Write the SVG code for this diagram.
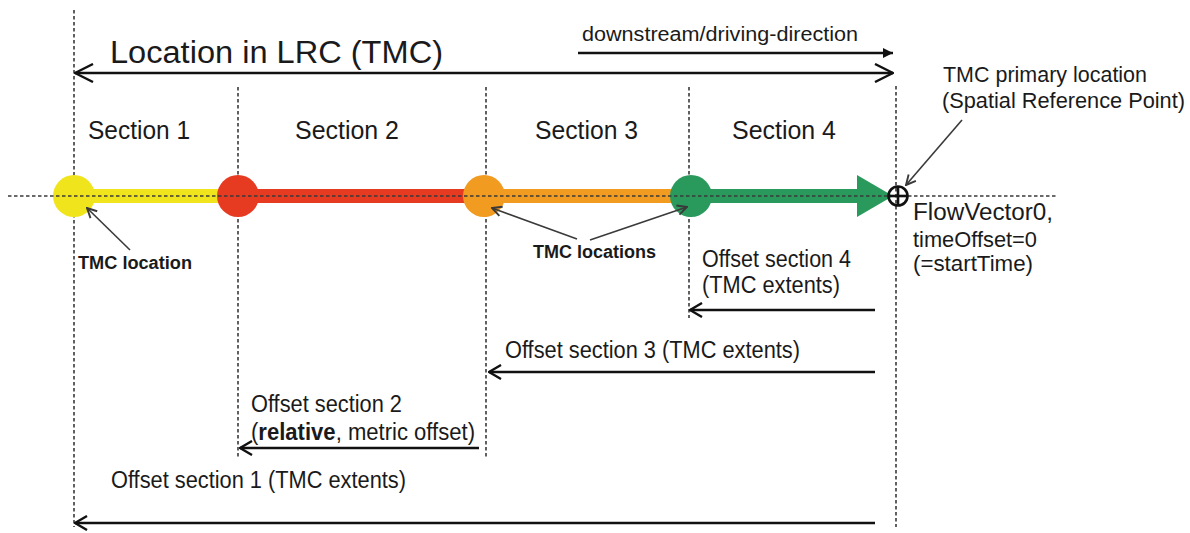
<svg xmlns="http://www.w3.org/2000/svg" width="1190" height="533" viewBox="0 0 1190 533">
<style>
text{font-family:"Liberation Sans",Arial,sans-serif;fill:#1a1a1a}
.dash{stroke:#3a3a3a;stroke-width:1.6;stroke-dasharray:3.5 2.5;fill:none}
.ln{stroke:#111;stroke-width:2.4;fill:none}
.thin{stroke:#3a3a3a;stroke-width:1.6;fill:none}
.sec{font-size:25px}
.off{font-size:23.5px}
.note{font-size:18px;font-weight:bold}
</style>
<defs>
<marker id="open" viewBox="0 0 14 16" refX="13" refY="8" markerWidth="14" markerHeight="16" markerUnits="userSpaceOnUse" orient="auto-start-reverse">
<path d="M1,1 L13,8 L1,15" fill="none" stroke="#111" stroke-width="2.4"/>
</marker>
<marker id="openbig" viewBox="0 0 20 20" refX="19" refY="10" markerWidth="20" markerHeight="20" markerUnits="userSpaceOnUse" orient="auto-start-reverse">
<path d="M1,1 L19,10 L1,19" fill="none" stroke="#111" stroke-width="2.4"/>
</marker>
<marker id="filled" viewBox="0 0 10 10" refX="10" refY="5" markerWidth="10" markerHeight="10" markerUnits="userSpaceOnUse" orient="auto">
<path d="M0,0 L10,5 L0,10 Z" fill="#111"/>
</marker>
<marker id="small" viewBox="0 0 10 10" refX="9" refY="5" markerWidth="12" markerHeight="12" markerUnits="userSpaceOnUse" orient="auto">
<path d="M1,1 L9,5 L1,9" fill="none" stroke="#3a3a3a" stroke-width="1.6"/>
</marker>
</defs>
<rect width="1190" height="533" fill="#fff"/>

<g id="guides">
<line class="dash" x1="74" y1="10" x2="74" y2="527"/>
<line class="dash" x1="238" y1="87" x2="238" y2="457"/>
<line class="dash" x1="486" y1="87" x2="486" y2="457"/>
<line class="dash" x1="689" y1="87" x2="689" y2="318"/>
<line class="dash" x1="896" y1="86" x2="896" y2="527"/>
</g>

<g id="road">
<line x1="74" y1="196" x2="238" y2="196" stroke="#f0e51c" stroke-width="14"/>
<line x1="238" y1="196" x2="486" y2="196" stroke="#e63b21" stroke-width="14"/>
<line x1="486" y1="196" x2="690" y2="196" stroke="#f29b21" stroke-width="14"/>
<line x1="690" y1="196" x2="860" y2="196" stroke="#2a9a5c" stroke-width="14"/>
<path d="M857,175 L893,196 L857,217 Z" fill="#2a9a5c"/>
<circle id="loc1" cx="74" cy="196" r="21" fill="#f0e51c"/>
<circle id="loc2" cx="238" cy="196" r="21" fill="#e63b21"/>
<circle id="loc3" cx="484" cy="196" r="21" fill="#f29b21"/>
<circle id="loc4" cx="691" cy="196" r="21" fill="#2a9a5c"/>
</g>
<line class="dash" x1="8" y1="196" x2="1058" y2="196"/>

<g id="title">
<text x="110" y="63" font-size="31" textLength="333" lengthAdjust="spacingAndGlyphs">Location in LRC (TMC)</text>
</g>
<g id="direction">
<text x="582" y="41" font-size="20" textLength="276" lengthAdjust="spacingAndGlyphs">downstream/driving-direction</text>
</g>

<g id="sections">
<text class="sec" x="88" y="139" textLength="102" lengthAdjust="spacingAndGlyphs">Section 1</text>
<text class="sec" x="295" y="139" textLength="104" lengthAdjust="spacingAndGlyphs">Section 2</text>
<text class="sec" x="535" y="139" textLength="103" lengthAdjust="spacingAndGlyphs">Section 3</text>
<text class="sec" x="732" y="139" textLength="104" lengthAdjust="spacingAndGlyphs">Section 4</text>
</g>

<g id="srp">
<circle cx="898" cy="196" r="9.5" fill="none" stroke="#111" stroke-width="2.6"/>
<line x1="888.5" y1="196" x2="907.5" y2="196" stroke="#111" stroke-width="2.6"/>
<line x1="898" y1="186.5" x2="898" y2="205.5" stroke="#111" stroke-width="2.6"/>
<text x="943" y="82" font-size="22" textLength="204" lengthAdjust="spacingAndGlyphs">TMC primary location</text>
<text x="942" y="108" font-size="22" textLength="243" lengthAdjust="spacingAndGlyphs">(Spatial Reference Point)</text>
</g>

<g id="flowvector">
<text x="913" y="220" font-size="23" textLength="140" lengthAdjust="spacingAndGlyphs">FlowVector0,</text>
<text x="913" y="247" font-size="22" textLength="124" lengthAdjust="spacingAndGlyphs">timeOffset=0</text>
<text x="913" y="271" font-size="22" textLength="120" lengthAdjust="spacingAndGlyphs">(=startTime)</text>
</g>

<g id="tmc-location">
<text class="note" x="78" y="269" textLength="114" lengthAdjust="spacingAndGlyphs">TMC location</text>
</g>
<g id="tmc-locations">
<text class="note" x="533" y="258" textLength="123" lengthAdjust="spacingAndGlyphs">TMC locations</text>
</g>

<g id="offset4">
<text class="off" x="702" y="267" textLength="149" lengthAdjust="spacingAndGlyphs">Offset section 4</text>
<text class="off" x="702" y="293" textLength="138" lengthAdjust="spacingAndGlyphs">(TMC extents)</text>
</g>
<g id="offset3">
<text class="off" x="505" y="358" textLength="295" lengthAdjust="spacingAndGlyphs">Offset section 3 (TMC extents)</text>
</g>
<g id="offset2">
<text class="off" x="251" y="412" textLength="151" lengthAdjust="spacingAndGlyphs">Offset section 2</text>
<text class="off" x="251" y="440" textLength="224" lengthAdjust="spacingAndGlyphs">(<tspan font-weight="bold">relative</tspan>, metric offset)</text>
</g>
<g id="offset1">
<text class="off" x="111" y="488" textLength="295" lengthAdjust="spacingAndGlyphs">Offset section 1 (TMC extents)</text>
</g>

<g id="connectors">
<line class="ln" x1="75" y1="73" x2="893" y2="73" marker-start="url(#openbig)" marker-end="url(#openbig)"/>
<line class="ln" x1="578" y1="53" x2="893" y2="53" marker-end="url(#filled)"/>
<line class="thin" x1="962" y1="120" x2="906" y2="185" marker-end="url(#small)"/>
<line class="thin" x1="130" y1="250" x2="87" y2="208" marker-end="url(#small)"/>
<line class="thin" x1="577" y1="239" x2="492" y2="208" marker-end="url(#small)"/>
<line class="thin" x1="590" y1="240" x2="687" y2="207" marker-end="url(#small)"/>
<line class="ln" x1="875" y1="310" x2="690" y2="310" marker-end="url(#open)"/>
<line class="ln" x1="875" y1="372" x2="489" y2="372" marker-end="url(#open)"/>
<line class="ln" x1="479" y1="448" x2="240" y2="448" marker-end="url(#open)"/>
<line class="ln" x1="875" y1="523" x2="75" y2="523" marker-end="url(#open)"/>
</g>
</svg>
